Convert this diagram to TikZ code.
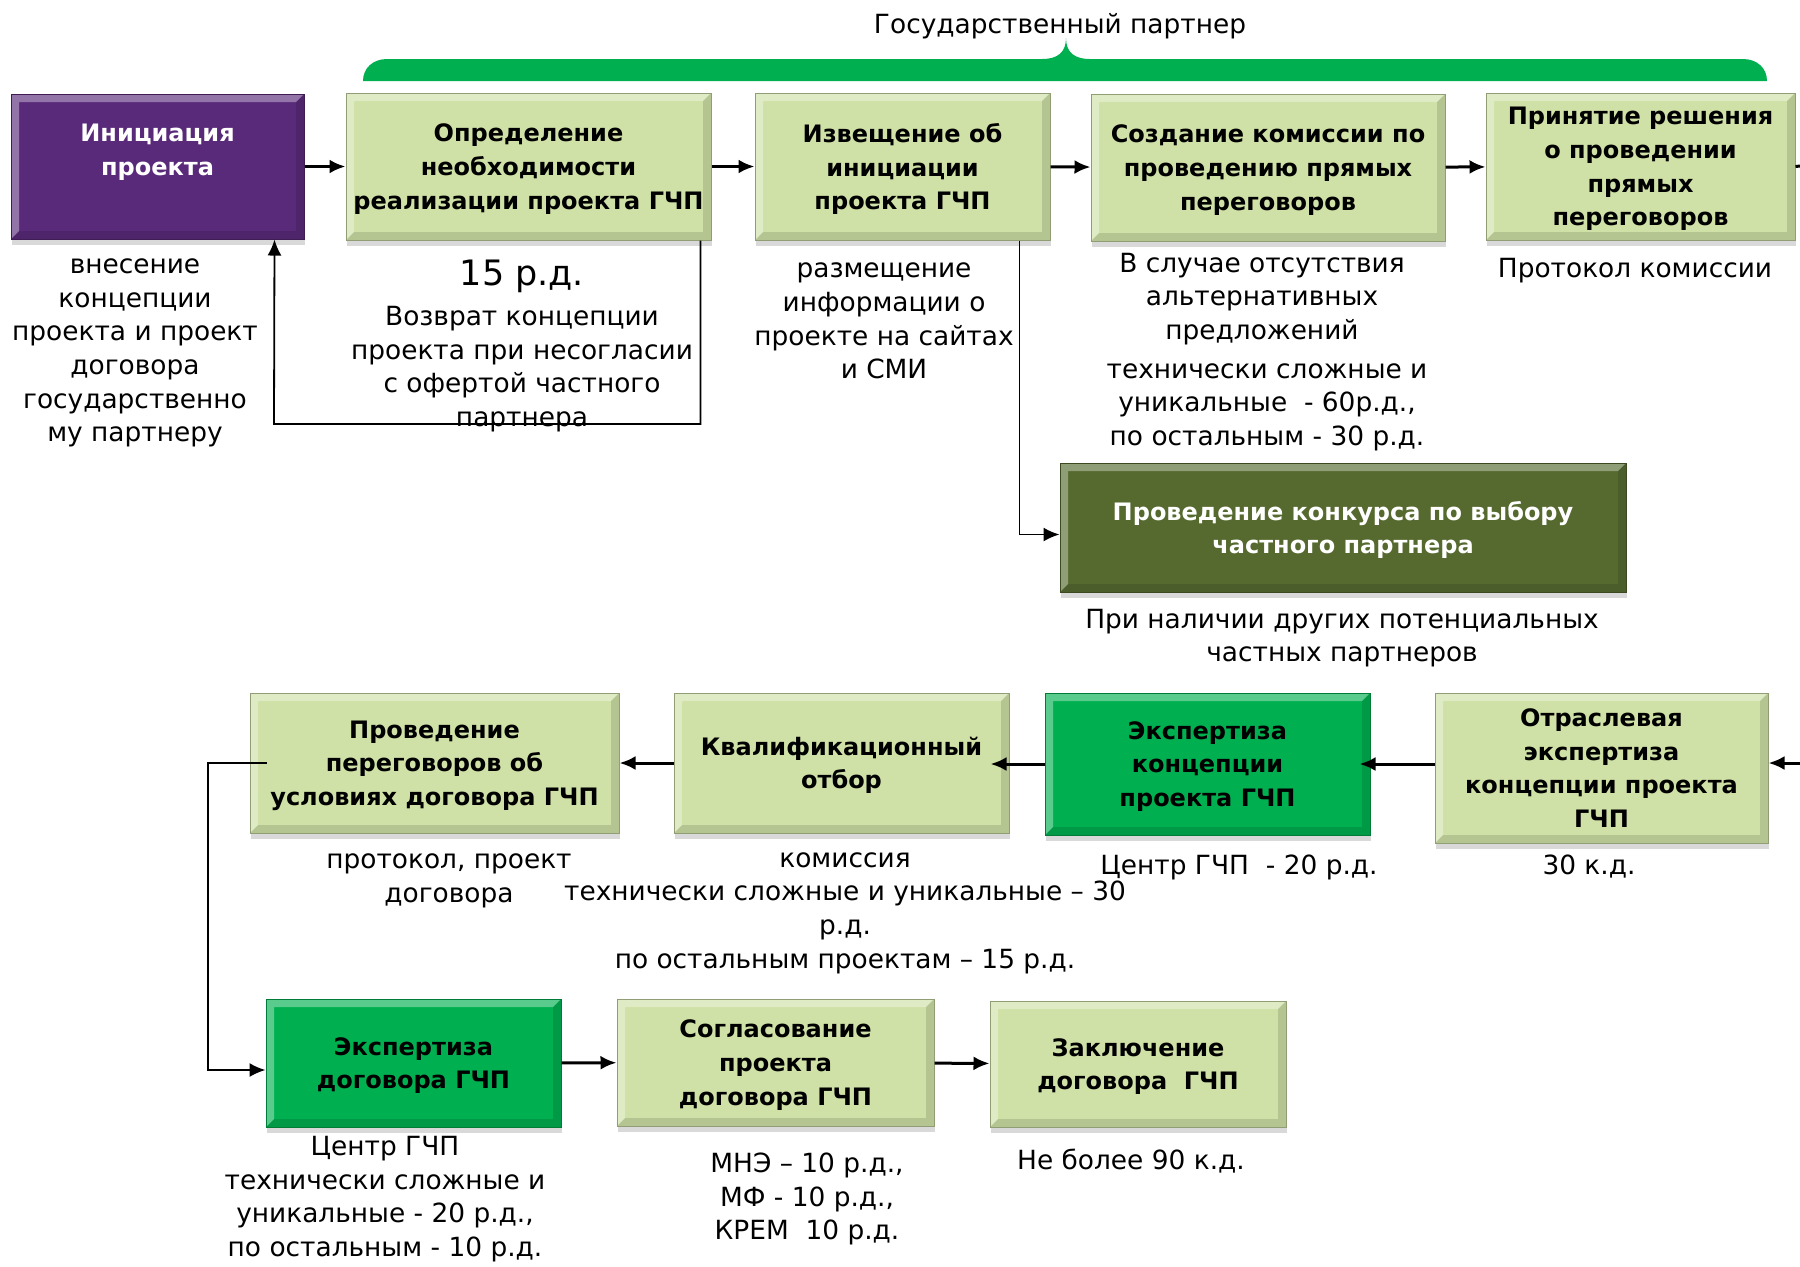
\documentclass[tikz,border=0pt]{standalone}
\usepackage{fontspec}
\setmainfont{DejaVu Sans}
\usetikzlibrary{arrows.meta,shadows}

\definecolor{stagefill}{RGB}{207,225,166}
\definecolor{initfill}{RGB}{89,42,122}
\definecolor{olivefill}{RGB}{86,106,48}
\definecolor{expfill}{RGB}{0,176,80}

\tikzset{
  bevel/.style={path picture={
      % light edge on top and left, dark edge on bottom and right
      \fill[white,opacity=0.35] (path picture bounding box.north west)
        -- (path picture bounding box.north east)
        -- ([shift={(-4pt,-4pt)}]path picture bounding box.north east)
        -- ([shift={(4pt,-4pt)}]path picture bounding box.north west)
        -- ([shift={(4pt,4pt)}]path picture bounding box.south west)
        -- (path picture bounding box.south west) -- cycle;
      \fill[black,opacity=0.12] (path picture bounding box.south east)
        -- (path picture bounding box.south west)
        -- ([shift={(4pt,4pt)}]path picture bounding box.south west)
        -- ([shift={(-4pt,4pt)}]path picture bounding box.south east)
        -- ([shift={(-4pt,-4pt)}]path picture bounding box.north east)
        -- (path picture bounding box.north east) -- cycle;
  }},
  dims/.style 2 args={minimum width=#1*0.5pt, minimum height=#2*0.5pt},
  stage/.style={inner sep=0pt, align=center, fill=stagefill,
      draw=stagefill!70!black, line width=0.5pt, bevel, text depth=0pt,
      drop shadow={shadow xshift=0.5pt, shadow yshift=-3pt, opacity=0.3},
      font=\fontsize{12}{16.8}\selectfont\bfseries},
  initstage/.style={stage, fill=initfill, draw=initfill!70!black, text=white},
  olivestage/.style={stage, fill=olivefill, draw=olivefill!70!black, text=white},
  expstage/.style={stage, fill=expfill, draw=expfill!70!black},
  note/.style={inner sep=0pt, align=center, yshift=-2pt, font=\fontsize{13.2}{16.8}\selectfont},
  arr/.style={->, line width=1.5pt},
  link/.style={->, line width=0.9pt},
}

\begin{document}
\begin{tikzpicture}[x=0.5pt,y=-0.5pt,>={Latex[length=8pt,width=7pt]}]
    \useasboundingbox (0,0) rectangle (1800,1266);

    % the brace over the stages of the state partner
    \node[note] (title) at (1060,22) {Государственный партнер};
    \fill[expfill] (363,81) .. controls (363,68) and (373,59) .. (387,59)
        -- (1042,59) .. controls (1058,59) and (1066,52) .. (1066,38)
        .. controls (1066,52) and (1074,59) .. (1090,59)
        -- (1743,59) .. controls (1757,59) and (1767,68) .. (1767,81) -- cycle;

    % first row
    \node[initstage, dims={293}{145}] (init) at (157.5,166.5) {Инициация\\проекта\\~};
    \node[stage, dims={365}{147}] (need) at (528.5,166.5) {Определение\\необходимости\\реализации проекта ГЧП};
    \node[stage, dims={295}{147}] (notice) at (902.5,166.5) {Извещение об\\инициации\\проекта ГЧП};
    \node[stage, dims={354}{147}] (commis) at (1268,167.5) {Создание комиссии по\\проведению прямых\\переговоров};
    \node[stage, dims={309}{147}] (decide) at (1640.5,166.5) {Принятие решения\\о проведении\\прямых\\переговоров};
    \node[olivestage, dims={566}{129}] (contest) at (1343,527.5) {Проведение конкурса по выбору\\частного партнера};

    % second row
    \node[stage, dims={369}{140}] (talks) at (434.5,763) {Проведение\\переговоров об\\условиях договора ГЧП};
    \node[stage, dims={335}{140}] (qualif) at (841.5,763) {Квалификационный\\отбор};
    \node[expstage, dims={325}{142}] (concexp) at (1207.5,764) {Экспертиза\\концепции\\проекта ГЧП};
    \node[stage, dims={333}{150}] (branch) at (1601.5,768) {Отраслевая\\экспертиза\\концепции проекта\\ГЧП};

    % third row
    \node[expstage, dims={295}{128}] (contrexp) at (413.5,1063) {Экспертиза\\договора ГЧП};
    \node[stage, dims={317}{127}] (agree) at (775.5,1062.5) {Согласование\\проекта\\договора ГЧП};
    \node[stage, dims={296}{126}] (sign) at (1138,1064) {Заключение\\договора~~ГЧП};

    % notes under the stages
    \node[note] (initnote) at (135,349) {внесение\\концепции\\проекта и проект\\договора\\государственно\\му партнеру};
    \node[note, font=\fontsize{17.5}{20}\selectfont] (needdays) at (522,272) {15 р.д.};
    \node[note] (neednote) at (522,365) {Возврат концепции\\проекта при несогласии\\с офертой частного\\партнера};
    \node[note] (noticenote) at (884,317) {размещение\\информации о\\проекте на сайтах\\и СМИ};
    \node[note] (commisnote) at (1262,295) {В случае отсутствия\\альтернативных\\предложений};
    \node[note] (commisdays) at (1267,403) {технически сложные и\\уникальные~~- 60р.д.,\\по остальным - 30 р.д.};
    \node[note] (decidenote) at (1635,267) {Протокол комиссии};
    \node[note] (contestnote) at (1342,634) {При наличии других потенциальных\\частных партнеров};
    \node[note] (talksnote) at (449,877) {протокол, проект\\договора};
    \node[note] (qualifnote) at (845,909) {комиссия\\технически сложные и уникальные – 30\\р.д.\\по остальным проектам – 15 р.д.};
    \node[note] (concexpnote) at (1239,863) {Центр ГЧП~~- 20 р.д.};
    \node[note] (branchnote) at (1589,863) {30 к.д.};
    \node[note] (contrexpnote) at (385,1195) {Центр ГЧП\\технически сложные и\\уникальные - 20 р.д.,\\по остальным - 10 р.д.};
    \node[note] (agreenote) at (807,1195) {МНЭ – 10 р.д.,\\МФ - 10 р.д.,\\КРЕМ~~10 р.д.};
    \node[note] (signnote) at (1131,1157) {Не более 90 к.д.};

    % arrows along the first row
    \foreach \a/\b in {init/need, need/notice, notice/commis, commis/decide}
        \draw[arr] (\a) -- (\b);
    \coordinate (outR) at (1800,166);
    \draw[line width=1.5pt] (decide.east) -- (outR);

    % return of the concept and the contest branch
    \draw[link] ([xshift=-5.5pt]need.south east) |- (274,424) -- ([xshift=-15pt]init.south east);
    \draw[link] ([xshift=-15.5pt]notice.south east) |- ([yshift=-3.5pt]contest.west);

    % second row, right to left
    \coordinate (inR) at (1800,763);
    \draw[arr] (inR) -- (inR -| branch.east);
    \draw[arr, shorten >=-5.5pt] (concexp.east -| branch.west) -- (concexp.east);
    \draw[arr, shorten >=-9.5pt] (concexp.west) -- (qualif.east |- concexp.west);
    \draw[arr] (qualif) -- (talks);

    % down to the third row
    \draw[link] ([xshift=8.5pt]talks.west) -| (208,1070) -- ([yshift=-3.5pt]contrexp.west);
    \foreach \a/\b in {contrexp/agree, agree/sign}
        \draw[arr] (\a) -- (\b);
\end{tikzpicture}
\end{document}
